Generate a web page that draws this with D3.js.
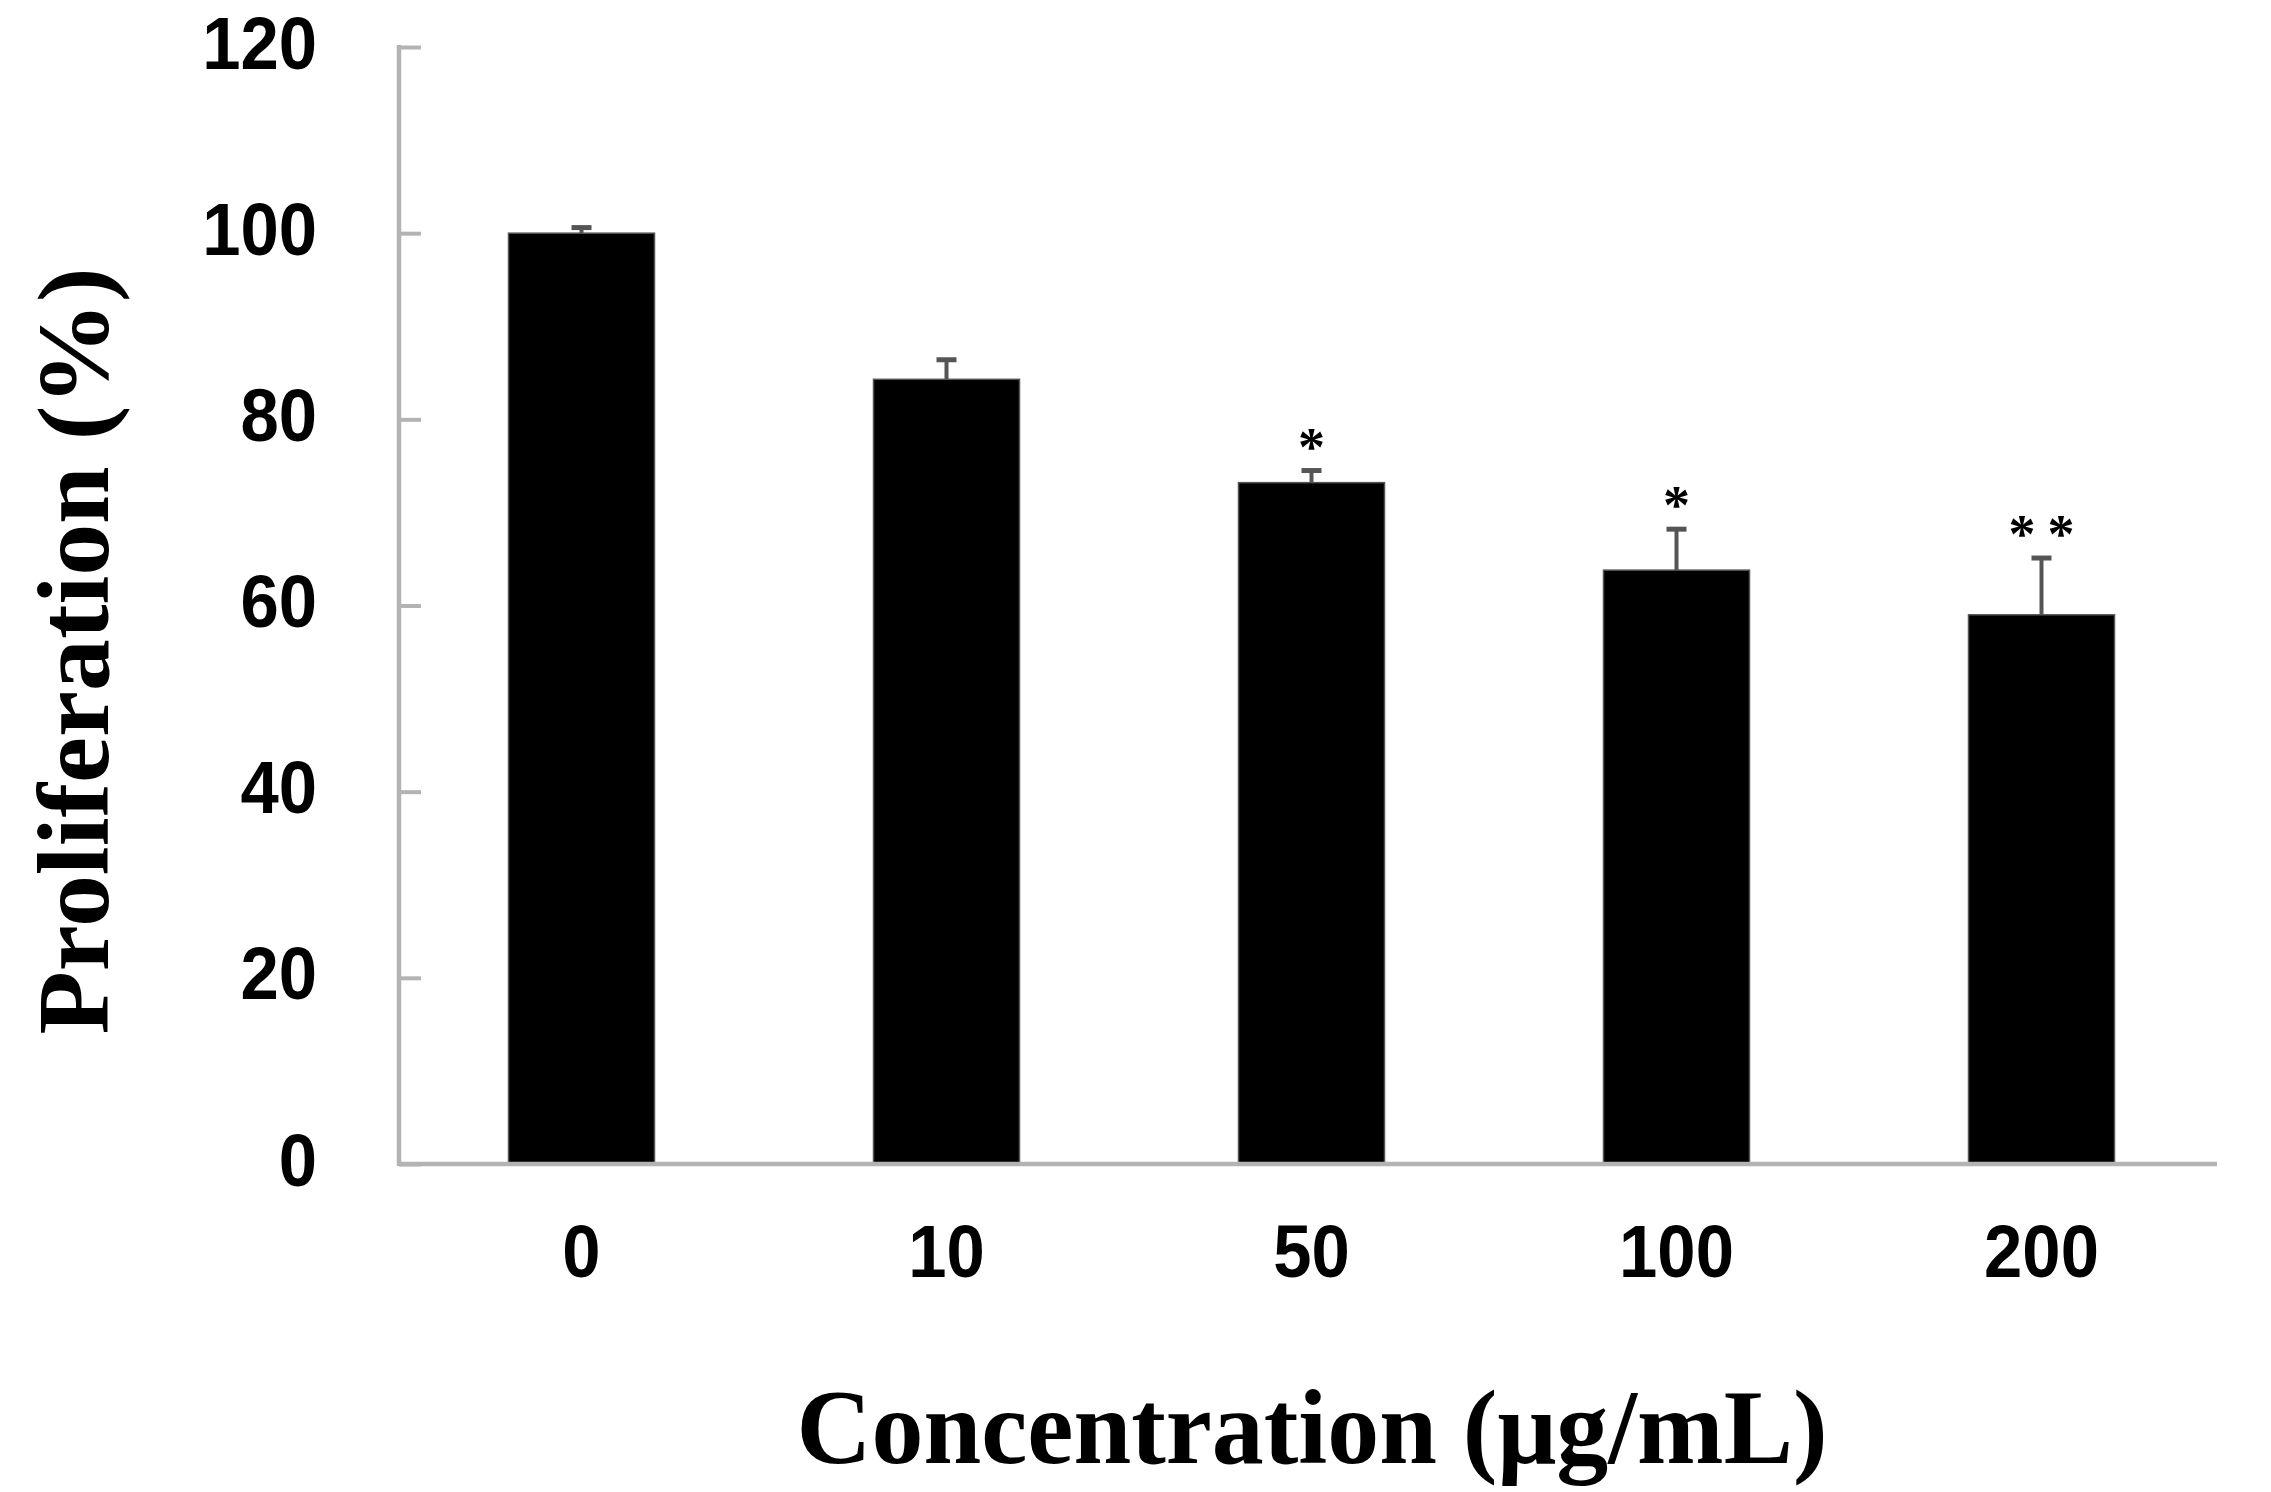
<!DOCTYPE html>
<html>
<head>
<meta charset="utf-8">
<script src="https://cdn.jsdelivr.net/npm/d3@7"></script>
<style>
html,body{margin:0;padding:0;background:#fff;}
svg{display:block;}
</style>
</head>
<body>
<script>
const categories = ["0", "10", "50", "100", "200"];
const values = [100, 84.3, 73.2, 63.8, 59.0];
const errors = [0.6, 2.1, 1.3, 4.4, 6.1];
const significance = ["", "", "*", "*", "**"];
const yTicks = [0, 20, 40, 60, 80, 100, 120];
const yTitle = "Proliferation (%)";
const xTitle = "Concentration (\u03bcg/mL)";

const W = 2271, H = 1492;
const svg = d3.select("body").append("svg").attr("width", W).attr("height", H);

const x0 = 399, x1 = 2217, yBottom = 1164, yTop = 47;
const x = d3.scaleBand().domain(categories).range([x0, x0 + 5 * 365]).paddingInner(0.6).paddingOuter(0.3);
const y = d3.scaleLinear().domain([0, 120]).range([yBottom, yTop]);

const axisColor = "#b3b3b3";

// bars
svg.append("g").selectAll("rect").data(values).join("rect")
  .attr("x", (d, i) => x(categories[i]))
  .attr("width", x.bandwidth())
  .attr("y", d => y(d))
  .attr("height", d => y(0) - y(d))
  .attr("fill", "#000")
  .attr("stroke", "#555")
  .attr("stroke-width", 1.5);

// error bars (upper only)
const eb = svg.append("g");
values.forEach((v, i) => {
  const cx = x(categories[i]) + x.bandwidth() / 2;
  eb.append("line").attr("x1", cx).attr("x2", cx).attr("y1", y(v)).attr("y2", y(v + errors[i]))
    .attr("stroke", "#555").attr("stroke-width", 4);
  eb.append("line").attr("x1", cx - 10).attr("x2", cx + 10).attr("y1", y(v + errors[i])).attr("y2", y(v + errors[i]))
    .attr("stroke", "#555").attr("stroke-width", 5);
});

// significance marks
svg.append("g").selectAll("text").data(significance).join("text")
  .attr("x", (d, i) => x(categories[i]) + x.bandwidth() / 2 + (d.length > 1 ? 6 : 0))
  .attr("y", (d, i) => y(values[i] + errors[i]) - 6)
  .attr("text-anchor", "middle")
  .attr("font-family", "'Liberation Serif', 'Times New Roman', serif")
  .attr("font-weight", "bold")
  .attr("font-size", 54)
  .attr("letter-spacing", d => d.length > 1 ? 12 : 0)
  .text(d => d);

// y axis (ticks pointing inward)
const yAxis = d3.axisRight(y).tickValues(yTicks).tickSize(22).tickFormat("");
const gy = svg.append("g").attr("transform", `translate(${x0},0)`).call(yAxis);
gy.select(".domain").remove();
gy.selectAll(".tick line").attr("stroke", axisColor).attr("stroke-width", 4);
svg.append("line").attr("x1", x0).attr("x2", x0).attr("y1", y(120) - 2).attr("y2", yBottom + 2)
  .attr("stroke", axisColor).attr("stroke-width", 4.5);

// y tick labels
svg.append("g").selectAll("text").data(yTicks).join("text")
  .attr("x", 317)
  .attr("y", d => y(d) - 5)
  .attr("dy", "0.36em")
  .attr("text-anchor", "end")
  .attr("font-family", "'Liberation Sans', Arial, sans-serif")
  .attr("font-weight", "bold")
  .attr("font-size", 74)
  .attr("transform", d => `translate(317,0) scale(0.93,1) translate(-317,0)`)
  .text(d => d);

// x axis
const xAxis = d3.axisBottom(x).tickSize(0).tickFormat("");
const gx = svg.append("g").attr("transform", `translate(0,${yBottom})`).call(xAxis);
gx.select(".domain").attr("stroke", axisColor).attr("stroke-width", 4.5).attr("d", `M${x0},0H${x1}`);

// x tick labels
svg.append("g").selectAll("text").data(categories).join("text")
  .attr("transform", d => `translate(${x(d) + x.bandwidth() / 2},1277) scale(0.93,1)`)
  .attr("text-anchor", "middle")
  .attr("font-family", "'Liberation Sans', Arial, sans-serif")
  .attr("font-weight", "bold")
  .attr("font-size", 74)
  .text(d => d);

// axis titles
svg.append("text")
  .attr("transform", "translate(108,651) rotate(-90)")
  .attr("text-anchor", "middle")
  .attr("font-family", "'Liberation Serif', 'Times New Roman', serif")
  .attr("font-weight", "bold")
  .attr("font-size", 102)
  .attr("textLength", 767)
  .attr("lengthAdjust", "spacingAndGlyphs")
  .text(yTitle);

svg.append("text")
  .attr("x", 1312)
  .attr("y", 1463)
  .attr("text-anchor", "middle")
  .attr("font-family", "'Liberation Serif', 'Times New Roman', serif")
  .attr("font-weight", "bold")
  .attr("font-size", 106)
  .attr("textLength", 1031)
  .attr("lengthAdjust", "spacingAndGlyphs")
  .text(xTitle);
</script>
</body>
</html>
